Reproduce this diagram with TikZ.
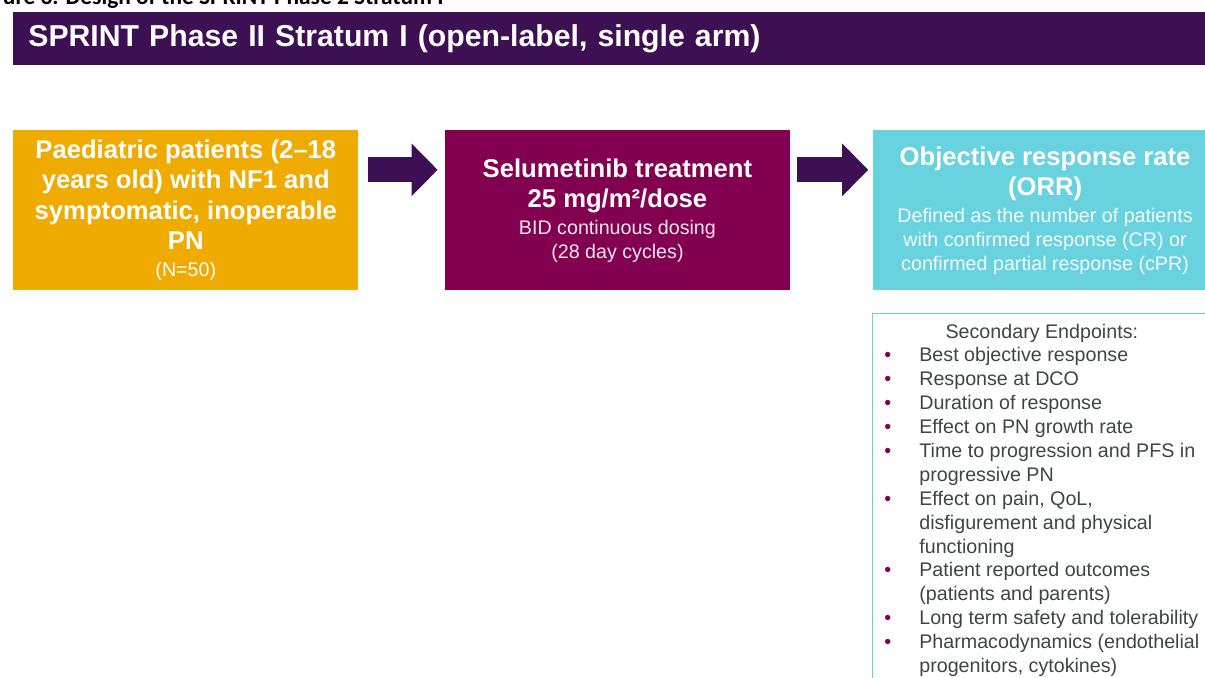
\documentclass[tikz,border=0pt]{standalone}
\usepackage{fontspec}
\setmainfont{Liberation Sans}
\newfontfamily\capfont{Carlito}
\usetikzlibrary{arrows.meta,positioning}

\definecolor{azpurple}{HTML}{3C1053}
\definecolor{azmulberry}{HTML}{830051}
\definecolor{azgold}{HTML}{F0AB00}
\definecolor{azcyan}{HTML}{68D2DF}
\definecolor{azgraphite}{HTML}{3F4444}

\newcommand{\smalltxt}{\mdseries\fontsize{11.2}{13.6}\selectfont}
\newcommand{\bul}{\textcolor{azmulberry}{\textbullet}}

\begin{document}
\begin{tikzpicture}[
    x=0.02cm, y=-0.02cm,
    banner/.style={rectangle, fill=azpurple, text=white, align=left, text width=23.24cm,
        inner xsep=0.3cm, inner ysep=0pt, minimum height=1.06cm,
        font=\fontsize{17.2}{20}\selectfont\bfseries},
    stagebox/.style={rectangle, minimum width=6.9cm, minimum height=3.2cm, align=center,
        inner sep=0pt, text=white, font=\fontsize{14.6}{17.3}\selectfont\bfseries},
    endbox/.style={rectangle, draw=azcyan, line width=0.8pt, minimum width=6.9cm, minimum height=8cm},
    flowarrow/.style={azpurple, line width=0.5cm, -{Triangle[length=0.52cm, width=1.02cm]}},
    node distance=0.44cm and 1.72cm
]
\useasboundingbox (0,0) rectangle (1205,677);

\node[anchor=base east, inner sep=0pt, font=\capfont\bfseries\fontsize{13.3}{16}\selectfont] (caption) at (444,4.5)
    {ure 3. Design of the SPRINT Phase 2 Stratum I};
\node[banner, anchor=north west] (title) at (13,12) {SPRINT Phase II Stratum I (open-label, single arm)};

\node[stagebox, fill=azgold, anchor=north west] (patients) at (13,130)
    {Paediatric patients (2--18\\ years old) with NF1 and\\ symptomatic, inoperable\\ PN\\[-2pt]
     {\smalltxt (N=50)}};
\node[stagebox, fill=azmulberry, right=of patients] (treatment)
    {Selumetinib treatment\\ 25 mg/m²/dose\\[-2pt]
     {\smalltxt\color{white!90!azmulberry} BID continuous dosing}\\[-3.7pt]
     {\smalltxt\color{white!90!azmulberry} (28 day cycles)}};
\node[stagebox, fill=azcyan, right=1.64cm of treatment] (orr)
    {Objective response rate\\ (ORR)\\[-2pt]
     {\smalltxt\color{white!92!azcyan} Defined as the number of patients}\\[-3.7pt]
     {\smalltxt\color{white!92!azcyan} with confirmed response (CR) or}\\[-3.7pt]
     {\smalltxt\color{white!92!azcyan} confirmed partial response (cPR)}};
\node[endbox, below=of orr] (secondary) {};

% secondary endpoints list
\node[anchor=base west, inner sep=0pt, text=azgraphite, font=\fontsize{11.2}{13.6}\selectfont] (endpoints) at (884,338)
    {\begin{tabular}[t]{@{}p{0.7cm}@{}l@{}}
     \multicolumn{2}{@{}c@{}}{Secondary Endpoints:}\\
     \bul & Best objective response\\
     \bul & Response at DCO\\
     \bul & Duration of response\\
     \bul & Effect on PN growth rate\\
     \bul & Time to progression and PFS in\\
          & progressive PN\\
     \bul & Effect on pain, QoL,\\
          & disfigurement and physical\\
          & functioning\\
     \bul & Patient reported outcomes\\
          & (patients and parents)\\
     \bul & Long term safety and tolerability\\
     \bul & Pharmacodynamics (endothelial\\
          & progenitors, cytokines)
     \end{tabular}};

\draw[flowarrow] ([xshift=0.18cm, yshift=0.81cm]patients.east) -- ([xshift=-0.14cm, yshift=0.81cm]treatment.west);
\draw[flowarrow] ([xshift=0.14cm, yshift=0.81cm]treatment.east) -- ([xshift=-0.08cm, yshift=0.81cm]orr.west);
\end{tikzpicture}
\end{document}
